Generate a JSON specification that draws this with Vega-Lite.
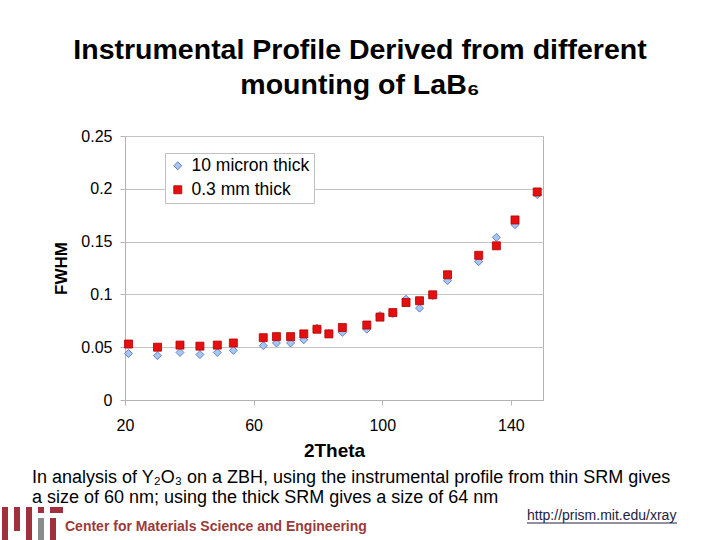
{
  "$schema": "https://vega.github.io/schema/vega-lite/v6.json",
  "autosize": {"type": "none"},
  "width": 418,
  "height": 264,
  "padding": {"left": 125, "top": 136, "right": 177, "bottom": 140},
  "background": "white",
  "config": {
    "font": "Liberation Sans",
    "view": {"stroke": "#b4b4b4", "strokeWidth": 1}
  },
  "title": {
    "text": ["Instrumental Profile Derived from different", "mounting of LaB₆"],
    "font": "Liberation Sans",
    "fontSize": 28.5,
    "fontWeight": "bold",
    "color": "black",
    "lineHeight": 35,
    "anchor": "middle",
    "frame": "group",
    "dx": 26,
    "offset": 29
  },
  "layer": [
    {
      "data": {
        "values": [
          {"series": "10 micron thick", "theta": 21.1, "fwhm": 0.044},
          {"series": "10 micron thick", "theta": 30.1, "fwhm": 0.042},
          {"series": "10 micron thick", "theta": 37.1, "fwhm": 0.045},
          {"series": "10 micron thick", "theta": 43.3, "fwhm": 0.043},
          {"series": "10 micron thick", "theta": 48.7, "fwhm": 0.045},
          {"series": "10 micron thick", "theta": 53.7, "fwhm": 0.047},
          {"series": "10 micron thick", "theta": 63.0, "fwhm": 0.0515},
          {"series": "10 micron thick", "theta": 67.1, "fwhm": 0.054},
          {"series": "10 micron thick", "theta": 71.5, "fwhm": 0.054},
          {"series": "10 micron thick", "theta": 75.6, "fwhm": 0.057},
          {"series": "10 micron thick", "theta": 79.7, "fwhm": 0.068},
          {"series": "10 micron thick", "theta": 83.4, "fwhm": 0.063},
          {"series": "10 micron thick", "theta": 87.6, "fwhm": 0.064},
          {"series": "10 micron thick", "theta": 95.2, "fwhm": 0.067},
          {"series": "10 micron thick", "theta": 99.3, "fwhm": 0.080},
          {"series": "10 micron thick", "theta": 103.3, "fwhm": 0.082},
          {"series": "10 micron thick", "theta": 107.4, "fwhm": 0.0955},
          {"series": "10 micron thick", "theta": 111.6, "fwhm": 0.087},
          {"series": "10 micron thick", "theta": 115.7, "fwhm": 0.099},
          {"series": "10 micron thick", "theta": 120.3, "fwhm": 0.113},
          {"series": "10 micron thick", "theta": 130.0, "fwhm": 0.131},
          {"series": "10 micron thick", "theta": 135.5, "fwhm": 0.154},
          {"series": "10 micron thick", "theta": 141.3, "fwhm": 0.166},
          {"series": "10 micron thick", "theta": 148.2, "fwhm": 0.1945},
          {"series": "0.3 mm thick", "theta": 21.1, "fwhm": 0.053},
          {"series": "0.3 mm thick", "theta": 30.1, "fwhm": 0.050},
          {"series": "0.3 mm thick", "theta": 37.1, "fwhm": 0.052},
          {"series": "0.3 mm thick", "theta": 43.3, "fwhm": 0.051},
          {"series": "0.3 mm thick", "theta": 48.7, "fwhm": 0.052},
          {"series": "0.3 mm thick", "theta": 53.7, "fwhm": 0.054},
          {"series": "0.3 mm thick", "theta": 63.0, "fwhm": 0.059},
          {"series": "0.3 mm thick", "theta": 67.1, "fwhm": 0.060},
          {"series": "0.3 mm thick", "theta": 71.5, "fwhm": 0.060},
          {"series": "0.3 mm thick", "theta": 75.6, "fwhm": 0.0626},
          {"series": "0.3 mm thick", "theta": 79.7, "fwhm": 0.067},
          {"series": "0.3 mm thick", "theta": 83.4, "fwhm": 0.0626},
          {"series": "0.3 mm thick", "theta": 87.6, "fwhm": 0.0686},
          {"series": "0.3 mm thick", "theta": 95.2, "fwhm": 0.071},
          {"series": "0.3 mm thick", "theta": 99.3, "fwhm": 0.0785},
          {"series": "0.3 mm thick", "theta": 103.3, "fwhm": 0.0828},
          {"series": "0.3 mm thick", "theta": 107.4, "fwhm": 0.0923},
          {"series": "0.3 mm thick", "theta": 111.6, "fwhm": 0.094},
          {"series": "0.3 mm thick", "theta": 115.7, "fwhm": 0.0996},
          {"series": "0.3 mm thick", "theta": 120.3, "fwhm": 0.1186},
          {"series": "0.3 mm thick", "theta": 130.0, "fwhm": 0.137},
          {"series": "0.3 mm thick", "theta": 135.5, "fwhm": 0.146},
          {"series": "0.3 mm thick", "theta": 141.3, "fwhm": 0.1705},
          {"series": "0.3 mm thick", "theta": 148.2, "fwhm": 0.197}
        ]
      },
      "mark": {"type": "point", "filled": true, "size": 64, "strokeWidth": 0.8, "opacity": 1},
      "encoding": {
        "x": {
          "field": "theta", "type": "quantitative",
          "scale": {"domain": [20, 150], "nice": false, "zero": false},
          "axis": {
            "title": "2Theta",
            "values": [20, 60, 100, 140],
            "grid": false,
            "labelFlush": false,
            "domainColor": "#b4b4b4",
            "tickColor": "#b4b4b4",
            "tickSize": 5,
            "labelFontSize": 16,
            "labelColor": "black",
            "labelPadding": 12,
            "titleFontSize": 19,
            "titleFontWeight": "bold",
            "titleColor": "black",
            "titlePadding": 8
          }
        },
        "y": {
          "field": "fwhm", "type": "quantitative",
          "scale": {"domain": [0, 0.25], "nice": false},
          "axis": {
            "title": "FWHM",
            "values": [0, 0.05, 0.1, 0.15, 0.2, 0.25],
            "format": "~g",
            "grid": true,
            "labelFlush": false,
            "gridColor": "#c4c4c4",
            "gridWidth": 1.2,
            "domainColor": "#b4b4b4",
            "tickColor": "#b4b4b4",
            "tickSize": 5,
            "labelFontSize": 16,
            "labelColor": "black",
            "labelPadding": 8,
            "titleFontSize": 17,
            "titleFontWeight": "bold",
            "titleColor": "black",
            "titlePadding": 10
          }
        },
        "color": {
          "field": "series", "type": "nominal",
          "scale": {"domain": ["10 micron thick", "0.3 mm thick"], "range": ["#a8c4f0", "#e41010"]},
          "legend": {
            "title": null,
            "orient": "none",
            "legendX": 40,
            "legendY": 17,
            "fillColor": "white",
            "strokeColor": "#c0c0c0",
            "padding": 4,
            "labelFontSize": 17.5,
            "labelColor": "black",
            "labelLimit": 300,
            "labelOffset": 5,
            "symbolSize": 64,
            "rowPadding": 5,
            "symbolOffset": 0,
            "symbolStrokeWidth": 0.8
          }
        },
        "shape": {
          "field": "series", "type": "nominal",
          "scale": {"domain": ["10 micron thick", "0.3 mm thick"], "range": ["diamond", "square"]},
          "legend": null
        },
        "stroke": {
          "field": "series", "type": "nominal",
          "scale": {"domain": ["10 micron thick", "0.3 mm thick"], "range": ["#4a6fc0", "#b00000"]},
          "legend": null
        }
      }
    },
    {
      "data": {"values": [{}]},
      "mark": {"type": "text", "text": "In analysis of Y₂O₃ on a ZBH, using the instrumental profile from thin SRM gives", "font": "Liberation Sans", "fontSize": 18, "align": "left", "baseline": "alphabetic", "color": "black"},
      "encoding": {"x": {"value": -93}, "y": {"value": 347}}
    },
    {
      "data": {"values": [{}]},
      "mark": {"type": "text", "text": "a size of 60 nm; using the thick SRM gives a size of 64 nm", "font": "Liberation Sans", "fontSize": 18, "align": "left", "baseline": "alphabetic", "color": "black"},
      "encoding": {"x": {"value": -93}, "y": {"value": 367}}
    },
    {
      "data": {"values": [{}]},
      "mark": {"type": "text", "text": "Center for Materials Science and Engineering", "font": "Liberation Sans", "fontSize": 14, "fontWeight": "bold", "align": "left", "baseline": "middle", "color": "#9b3a3a"},
      "encoding": {"x": {"value": -60}, "y": {"value": 391}}
    },
    {
      "data": {"values": [{}]},
      "mark": {"type": "text", "text": "http://prism.mit.edu/xray", "font": "Liberation Sans", "fontSize": 14, "align": "left", "baseline": "middle", "color": "#222244"},
      "encoding": {"x": {"value": 402}, "y": {"value": 380}}
    },
    {
      "data": {"values": [{}]},
      "mark": {"type": "rule", "color": "#222244", "strokeWidth": 1},
      "encoding": {"x": {"value": 402}, "x2": {"value": 552}, "y": {"value": 387}}
    },
    {
      "data": {"values": [{}]},
      "mark": {"type": "rect", "color": "#a0313c"},
      "encoding": {"x": {"value": -123}, "x2": {"value": -117}, "y": {"value": 371}, "y2": {"value": 404}}
    },
    {
      "data": {"values": [{}]},
      "mark": {"type": "rect", "color": "#a0313c"},
      "encoding": {"x": {"value": -111}, "x2": {"value": -105}, "y": {"value": 371}, "y2": {"value": 395}}
    },
    {
      "data": {"values": [{}]},
      "mark": {"type": "rect", "color": "#a0313c"},
      "encoding": {"x": {"value": -99}, "x2": {"value": -93}, "y": {"value": 371}, "y2": {"value": 404}}
    },
    {
      "data": {"values": [{}]},
      "mark": {"type": "rect", "color": "#a0313c"},
      "encoding": {"x": {"value": -87}, "x2": {"value": -81}, "y": {"value": 371}, "y2": {"value": 377}}
    },
    {
      "data": {"values": [{}]},
      "mark": {"type": "rect", "color": "#8a8b8c"},
      "encoding": {"x": {"value": -87}, "x2": {"value": -81}, "y": {"value": 382}, "y2": {"value": 404}}
    },
    {
      "data": {"values": [{}]},
      "mark": {"type": "rect", "color": "#a0313c"},
      "encoding": {"x": {"value": -75}, "x2": {"value": -62}, "y": {"value": 371}, "y2": {"value": 377}}
    },
    {
      "data": {"values": [{}]},
      "mark": {"type": "rect", "color": "#a0313c"},
      "encoding": {"x": {"value": -75}, "x2": {"value": -69}, "y": {"value": 382}, "y2": {"value": 404}}
    }
  ]
}
